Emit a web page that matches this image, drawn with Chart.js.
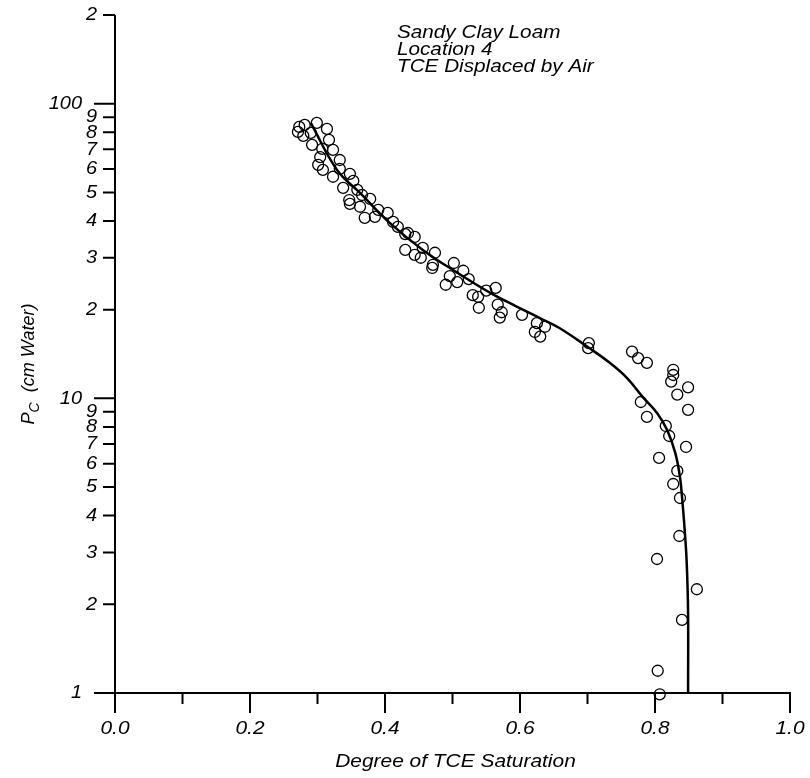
<!DOCTYPE html>
<html>
<head>
<meta charset="utf-8">
<title>TCE capillary pressure - saturation</title>
<script src="https://cdn.jsdelivr.net/npm/chart.js@4.4.1/dist/chart.umd.min.js"></script>
<style>
  html, body { margin: 0; padding: 0; background: #fff; }
  canvas { display: block; }
</style>
</head>
<body>
<canvas id="chart" width="810" height="778"></canvas>
<script>
// measured points (degree of TCE saturation, Pc in cm water)
const measuredSat = [
  0.273, 0.271, 0.281, 0.279, 0.299, 0.290, 0.314, 0.317, 0.292, 0.307,
  0.323, 0.304, 0.333, 0.301, 0.308, 0.323, 0.333, 0.348, 0.353, 0.338,
  0.359, 0.347, 0.348, 0.366, 0.363, 0.378, 0.370, 0.390, 0.385, 0.404,
  0.412, 0.419, 0.430, 0.430, 0.434, 0.444, 0.444, 0.453, 0.456, 0.474,
  0.471, 0.470, 0.502, 0.516, 0.496, 0.507, 0.490, 0.524, 0.530, 0.538,
  0.550, 0.564, 0.539, 0.567, 0.573, 0.570, 0.603, 0.625, 0.637, 0.622,
  0.630, 0.702, 0.701, 0.766, 0.775, 0.788, 0.827, 0.827, 0.824, 0.849,
  0.833, 0.849, 0.779, 0.788, 0.816, 0.821, 0.846, 0.806, 0.833, 0.827,
  0.837, 0.836, 0.803, 0.862, 0.840, 0.804, 0.807
];
const measuredPc = [
  83.4, 80.2, 84.7, 77.8, 86.1, 79.6, 82.1, 75.4, 72.5, 70.3,
  69.7, 65.9, 64.4, 62.0, 59.6, 56.5, 60.1, 57.8, 54.7, 51.8,
  51.0, 47.1, 45.7, 49.0, 44.7, 47.5, 41.0, 43.6, 41.3, 42.6,
  39.7, 38.2, 36.1, 31.9, 36.4, 35.3, 30.7, 30.0, 32.4, 31.2,
  28.4, 27.7, 28.8, 27.1, 26.0, 24.8, 24.3, 25.4, 22.4, 22.1,
  23.2, 23.7, 20.3, 20.8, 19.6, 18.8, 19.2, 18.0, 17.5, 16.8,
  16.2, 15.4, 14.8, 14.4, 13.7, 13.2, 12.5, 12.0, 11.4, 10.9,
  10.3, 9.14, 9.72, 8.65, 8.06, 7.45, 6.84, 6.28, 5.67, 5.12,
  4.59, 3.41, 2.85, 2.25, 1.77, 1.19, 0.99
];

// fitted curve
const fitSat = [0.290, 0.329, 0.363, 0.407, 0.456, 0.507, 0.556, 0.593, 0.630, 0.659,
  0.701, 0.733, 0.759, 0.782, 0.803, 0.818, 0.830, 0.837, 0.840, 0.844, 0.847, 0.849, 0.849];
const fitPc = [86.1, 59.6, 49.8, 39.4, 31.9, 26.7, 22.8, 20.6, 18.7, 17.3,
  14.9, 13.2, 11.7, 10.1, 8.92, 7.81, 6.53, 5.41, 4.63, 3.57, 2.76, 1.87, 1.0];

// axes
const xMajorTicks = [0, 0.2, 0.4, 0.6, 0.8, 1.0];
const xTickLabels = ['0.0', '0.2', '0.4', '0.6', '0.8', '1.0'];
const xMinorTicks = [0.1, 0.3, 0.5, 0.7, 0.9];
const yMajorTicks = [1, 10, 100];
const yMajorLabels = ['1', '10', '100'];
const yMinorTicks = [2, 3, 4, 5, 6, 7, 8, 9, 20, 30, 40, 50, 60, 70, 80, 90, 200];
const yMinorLabels = ['2', '3', '4', '5', '6', '7', '8', '9', '2', '3', '4', '5', '6', '7', '8', '9', '2'];
const xTitle = 'Degree of TCE Saturation';
const notes = ['Sandy Clay Loam', 'Location 4', 'TCE Displaced by Air'];

const FONT = '"Liberation Sans", Arial, sans-serif';

function drawText(ctx, text, x, y, size, align, sx) {
  ctx.save();
  ctx.font = `italic ${size}px ${FONT}`;
  ctx.textAlign = align;
  ctx.textBaseline = 'middle';
  ctx.translate(x, y);
  ctx.scale(sx, 1);
  ctx.fillText(text, 0, 0);
  ctx.restore();
}

const axesPlugin = {
  id: 'handAxes',
  afterDatasetsDraw(chart) {
    const { ctx, scales: { x, y } } = chart;
    const x0 = x.getPixelForValue(0);
    const x1 = x.getPixelForValue(1);
    const yBot = y.getPixelForValue(1);
    const yTop = y.getPixelForValue(200);

    ctx.save();
    ctx.strokeStyle = '#000';
    ctx.fillStyle = '#000';
    ctx.lineWidth = 2;

    ctx.beginPath();
    ctx.moveTo(x0, yTop);
    ctx.lineTo(x0, yBot + 20);
    ctx.moveTo(x0 - 21, yBot);
    ctx.lineTo(x1 + 1, yBot);
    xMajorTicks.forEach(v => {
      const px = x.getPixelForValue(v);
      ctx.moveTo(px, yBot);
      ctx.lineTo(px, yBot + 20);
    });
    xMinorTicks.forEach(v => {
      const px = x.getPixelForValue(v);
      ctx.moveTo(px, yBot);
      ctx.lineTo(px, yBot + 11);
    });
    yMajorTicks.forEach(v => {
      const py = y.getPixelForValue(v);
      ctx.moveTo(x0 - 21, py);
      ctx.lineTo(x0, py);
    });
    yMinorTicks.forEach(v => {
      const py = y.getPixelForValue(v);
      ctx.moveTo(x0 - 12, py);
      ctx.lineTo(x0, py);
    });
    ctx.stroke();

    xMajorTicks.forEach((v, i) => {
      drawText(ctx, xTickLabels[i], x.getPixelForValue(v), yBot + 36, 19, 'center', 1.1);
    });
    yMajorTicks.forEach((v, i) => {
      drawText(ctx, yMajorLabels[i], x0 - 33, y.getPixelForValue(v), 19, 'right', 1.05);
    });
    yMinorTicks.forEach((v, i) => {
      drawText(ctx, yMinorLabels[i], x0 - 18, y.getPixelForValue(v), 19, 'right', 1.05);
    });

    drawText(ctx, xTitle, (x0 + x1) / 2 + 3, yBot + 69, 18.5, 'center', 1.13);

    notes.forEach((t, i) => {
      drawText(ctx, t, 397, 33 + i * 17, 18, 'left', 1.15);
    });

    // y title: P with subscript C, then (cm Water)
    ctx.translate(34, 364);
    ctx.rotate(-Math.PI / 2);
    ctx.textBaseline = 'alphabetic';
    ctx.textAlign = 'left';
    ctx.font = `italic 18px ${FONT}`;
    const wP = ctx.measureText('P').width;
    const wRest = ctx.measureText('  (cm Water)').width;
    ctx.font = `italic 14px ${FONT}`;
    const wC = ctx.measureText('C').width;
    const start = -(wP + wC + wRest) / 2;
    ctx.font = `italic 18px ${FONT}`;
    ctx.fillText('P', start, 0);
    ctx.font = `italic 14px ${FONT}`;
    ctx.fillText('C', start + wP, 5);
    ctx.font = `italic 18px ${FONT}`;
    ctx.fillText('  (cm Water)', start + wP + wC, 0);
    ctx.restore();
  }
};

new Chart(document.getElementById('chart'), {
  type: 'scatter',
  data: {
    datasets: [
      {
        label: 'Fitted curve',
        data: fitSat.map((s, i) => ({ x: s, y: fitPc[i] })),
        showLine: true,
        borderColor: '#000',
        borderWidth: 2.5,
        pointRadius: 0,
        tension: 0.4,
        fill: false,
        clip: false
      },
      {
        label: 'Measured',
        data: measuredSat.map((s, i) => ({ x: s, y: measuredPc[i] })),
        showLine: false,
        pointRadius: 5.5,
        pointBorderWidth: 1.3,
        pointBorderColor: '#000',
        pointBackgroundColor: 'rgba(0,0,0,0)',
        clip: false
      }
    ]
  },
  options: {
    responsive: false,
    devicePixelRatio: 1,
    animation: false,
    layout: { padding: { left: 115, right: 20, top: 15, bottom: 85 } },
    plugins: { legend: { display: false }, tooltip: { enabled: false } },
    scales: {
      x: { type: 'linear', min: 0, max: 1, display: false },
      y: { type: 'logarithmic', min: 1, max: 200, display: false }
    }
  },
  plugins: [axesPlugin]
});
</script>
</body>
</html>
